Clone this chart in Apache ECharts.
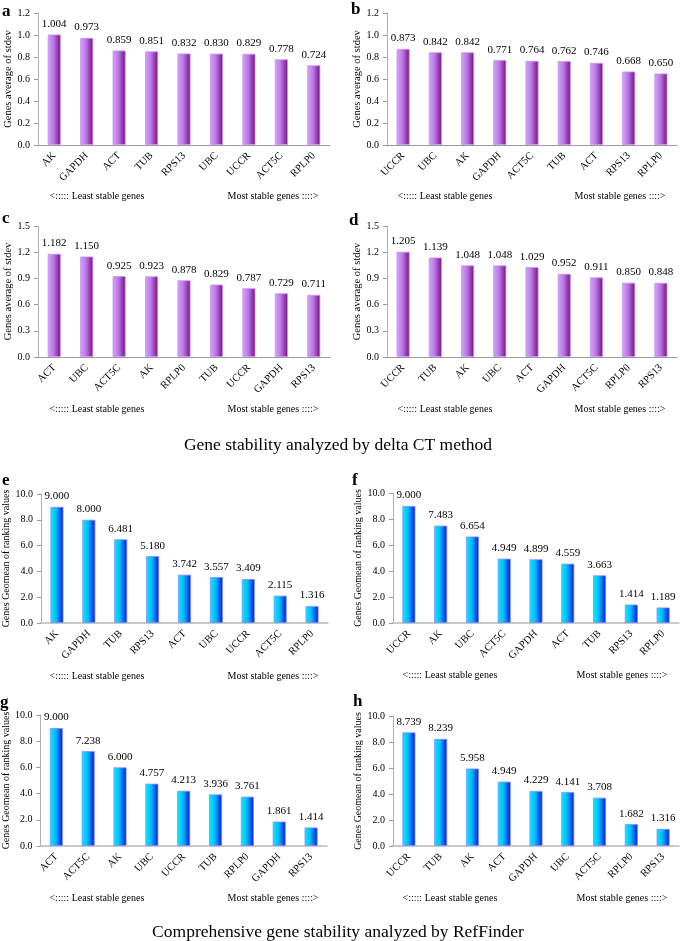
<!DOCTYPE html>
<html>
<head>
<meta charset="utf-8">
<script src="https://cdn.jsdelivr.net/npm/echarts@6/dist/echarts.min.js"></script>
<style>
  html, body { margin: 0; padding: 0; background: #fff; }
  #chart { width: 680px; height: 941px; }
</style>
</head>
<body>
<div id="chart"></div>
<script>
// panel data (delta CT: a-d, RefFinder: e-h)
const genesA = ["AK", "GAPDH", "ACT", "TUB", "RPS13", "UBC", "UCCR", "ACT5C", "RPLP0"];
const valuesA = [1.004, 0.973, 0.859, 0.851, 0.832, 0.830, 0.829, 0.778, 0.724];
const genesB = ["UCCR", "UBC", "AK", "GAPDH", "ACT5C", "TUB", "ACT", "RPS13", "RPLP0"];
const valuesB = [0.873, 0.842, 0.842, 0.771, 0.764, 0.762, 0.746, 0.668, 0.650];
const genesC = ["ACT", "UBC", "ACT5C", "AK", "RPLP0", "TUB", "UCCR", "GAPDH", "RPS13"];
const valuesC = [1.182, 1.150, 0.925, 0.923, 0.878, 0.829, 0.787, 0.729, 0.711];
const genesD = ["UCCR", "TUB", "AK", "UBC", "ACT", "GAPDH", "ACT5C", "RPLP0", "RPS13"];
const valuesD = [1.205, 1.139, 1.048, 1.048, 1.029, 0.952, 0.911, 0.850, 0.848];
const genesE = ["AK", "GAPDH", "TUB", "RPS13", "ACT", "UBC", "UCCR", "ACT5C", "RPLP0"];
const valuesE = [9.000, 8.000, 6.481, 5.180, 3.742, 3.557, 3.409, 2.115, 1.316];
const genesF = ["UCCR", "AK", "UBC", "ACT5C", "GAPDH", "ACT", "TUB", "RPS13", "RPLP0"];
const valuesF = [9.000, 7.483, 6.654, 4.949, 4.899, 4.559, 3.663, 1.414, 1.189];
const genesG = ["ACT", "ACT5C", "AK", "UBC", "UCCR", "TUB", "RPLP0", "GAPDH", "RPS13"];
const valuesG = [9.000, 7.238, 6.000, 4.757, 4.213, 3.936, 3.761, 1.861, 1.414];
const genesH = ["UCCR", "TUB", "AK", "ACT", "GAPDH", "UBC", "ACT5C", "RPLP0", "RPS13"];
const valuesH = [8.739, 8.239, 5.958, 4.949, 4.229, 4.141, 3.708, 1.682, 1.316];

// y axis ranges
const yMaxAB = 1.2, yStepAB = 0.2;
const yMaxCD = 1.5, yStepCD = 0.3;
const yMaxEH = 10, yStepEH = 2;

const FONT = "Liberation Serif";

const panels = [
    { letter: "a", genes: genesA, values: valuesA, max: yMaxAB, step: yStepAB, kind: "stdev", grid: { left: 38, top: 13, width: 292, height: 132 }, lx: 2, ly: 3, cap: [97, 273, 196] },
    { letter: "b", genes: genesB, values: valuesB, max: yMaxAB, step: yStepAB, kind: "stdev", grid: { left: 387, top: 13, width: 290, height: 132 }, lx: 351, ly: 1, cap: [445, 620, 196] },
    { letter: "c", genes: genesC, values: valuesC, max: yMaxCD, step: yStepCD, kind: "stdev", grid: { left: 38, top: 226, width: 292, height: 131 }, lx: 2, ly: 210, cap: [97, 273, 409] },
    { letter: "d", genes: genesD, values: valuesD, max: yMaxCD, step: yStepCD, kind: "stdev", grid: { left: 387, top: 226, width: 290, height: 131 }, lx: 349, ly: 212, cap: [445, 620, 409] },
    { letter: "e", genes: genesE, values: valuesE, max: yMaxEH, step: yStepEH, kind: "geo", grid: { left: 41, top: 494, width: 287, height: 129 }, lx: 2, ly: 472, cap: [97, 273, 676] },
    { letter: "f", genes: genesF, values: valuesF, max: yMaxEH, step: yStepEH, kind: "geo", grid: { left: 393, top: 493, width: 286, height: 130 }, lx: 352, ly: 472, cap: [450, 622, 675] },
    { letter: "g", genes: genesG, values: valuesG, max: yMaxEH, step: yStepEH, kind: "geo", grid: { left: 40, top: 715, width: 287, height: 131 }, lx: 0, ly: 694, cap: [97, 273, 898] },
    { letter: "h", genes: genesH, values: valuesH, max: yMaxEH, step: yStepEH, kind: "geo", grid: { left: 393, top: 716, width: 286, height: 130 }, lx: 353, ly: 693, cap: [450, 622, 898] },
];

const purpleFill = new echarts.graphic.LinearGradient(0, 0, 1, 0, [
    { offset: 0, color: "#D7A4FA" },
    { offset: 0.45, color: "#B878E6" },
    { offset: 1, color: "#7A0A80" },
]);
const blueFill = new echarts.graphic.LinearGradient(0, 0, 1, 0, [
    { offset: 0, color: "#00F4FF" },
    { offset: 0.45, color: "#00B8F8" },
    { offset: 1, color: "#0010E8" },
]);

const grid = [], xAxis = [], yAxis = [], series = [], graphic = [];

panels.forEach((p, i) => {
    const stdev = p.kind === "stdev";
    grid.push(p.grid);
    xAxis.push({
        type: "category",
        gridIndex: i,
        data: p.genes,
        axisLine: { lineStyle: { color: stdev ? "#9a9a9a" : "#b8b8b8", width: stdev ? 1 : 1.5 } },
        axisTick: { length: 4, lineStyle: { color: "#9a9a9a" } },
        axisLabel: { rotate: 45, fontFamily: FONT, fontSize: 10.5, color: "#000", margin: 9 },
    });
    yAxis.push({
        type: "value",
        gridIndex: i,
        min: 0,
        max: p.max,
        interval: p.step,
        name: stdev ? "Genes average of stdev" : "Genes Geomean of ranking values",
        nameLocation: "middle",
        nameGap: stdev ? 24 : 27,
        nameTextStyle: { fontFamily: FONT, fontSize: stdev ? 10.5 : 10, color: "#000" },
        axisLine: { show: true, lineStyle: { color: "#b0b0b0" } },
        axisTick: { show: true, length: 4, lineStyle: { color: "#9a9a9a" } },
        splitLine: { show: false },
        axisLabel: {
            fontFamily: FONT, fontSize: 10, color: "#000", margin: 8,
            formatter: (v) => v.toFixed(1),
        },
    });
    series.push({
        type: "bar",
        xAxisIndex: i,
        yAxisIndex: i,
        data: p.values,
        barWidth: 13,
        itemStyle: {
            color: stdev ? purpleFill : blueFill,
            borderColor: stdev ? "#C890F0" : "#8C8CFF",
            borderWidth: 0.8,
        },
        label: {
            show: true,
            position: "top",
            distance: 5,
            fontFamily: FONT,
            fontSize: 11,
            color: "#000",
            formatter: (d) => d.value.toFixed(3),
        },
    });
    graphic.push({
        type: "text", left: p.lx, top: p.ly,
        style: { text: p.letter, font: "bold 17px " + FONT, fill: "#000" },
    });
    graphic.push({
        type: "text", x: p.cap[0], y: p.cap[2],
        style: { text: "<::::: Least stable genes", font: "10px " + FONT, fill: "#000", align: "center", verticalAlign: "middle" },
    });
    graphic.push({
        type: "text", x: p.cap[1], y: p.cap[2],
        style: { text: "Most stable genes ::::>", font: "10px " + FONT, fill: "#000", align: "center", verticalAlign: "middle" },
    });
});

graphic.push({
    type: "text", x: 338, y: 445,
    style: { text: "Gene stability analyzed by delta CT method", font: "17.5px " + FONT, fill: "#000", align: "center", verticalAlign: "middle" },
});
graphic.push({
    type: "text", x: 338, y: 932,
    style: { text: "Comprehensive gene stability analyzed by RefFinder", font: "17.5px " + FONT, fill: "#000", align: "center", verticalAlign: "middle" },
});

const chart = echarts.init(document.getElementById("chart"));
chart.setOption({
    animation: false,
    backgroundColor: "#fff",
    grid,
    xAxis,
    yAxis,
    series,
    graphic,
});
</script>
</body>
</html>
